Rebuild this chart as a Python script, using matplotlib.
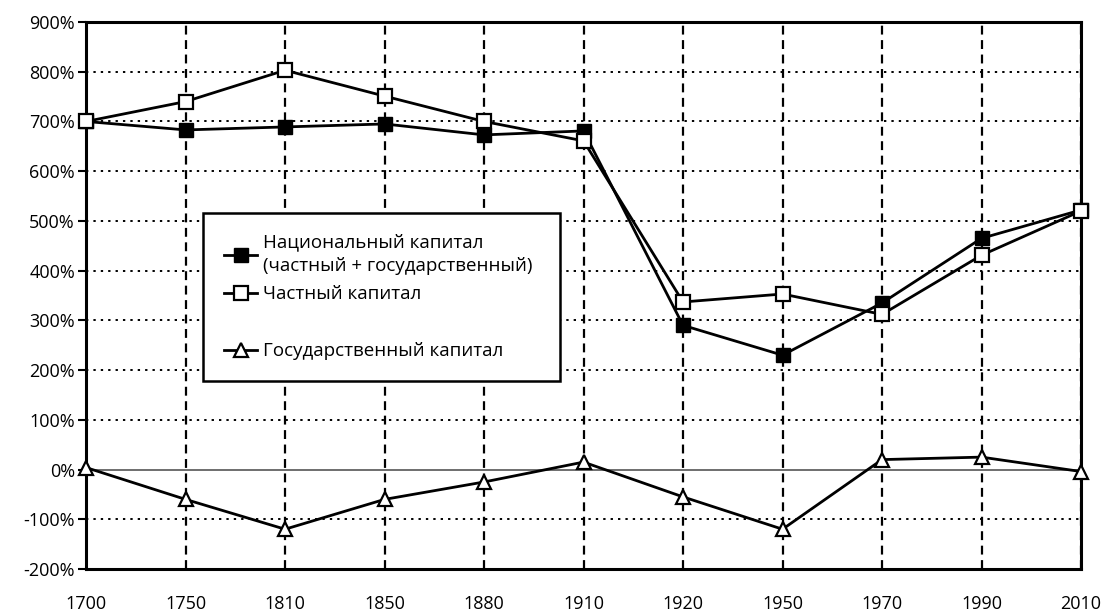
import matplotlib
matplotlib.use("Agg")
import matplotlib.pyplot as plt
from matplotlib.lines import Line2D

years = ["1700", "1750", "1810", "1850", "1880", "1910", "1920", "1950", "1970", "1990", "2010"]
national = [700, 683, 689, 695, 673, 681, 290, 230, 335, 465, 522]
private = [700, 740, 803, 751, 700, 661, 337, 353, 312, 431, 520]
public = [4, -60, -120, -60, -25, 15, -55, -120, 20, 25, -4]
yticks = [-200, -100, 0, 100, 200, 300, 400, 500, 600, 700, 800, 900]
labels = ["Национальный капитал\n(частный + государственный)", "Частный капитал", "Государственный капитал"]

plt.rcParams['font.family'] = ['Open Sans', 'DejaVu Sans']

fig = plt.figure(figsize=(11.06, 6.15), dpi=100)
ax = fig.add_axes([0.0778, 0.0748, 0.8996, 0.8894])

x = list(range(len(years)))

for xi in x:
    ax.axvline(xi, color='black', lw=1.6, ls=(0, (4, 2.5)), zorder=1)
for yv in yticks:
    if yv == 0:
        ax.axhline(0, color='#555555', lw=1.2, zorder=1)
    else:
        ax.axhline(yv, color='black', lw=1.4, ls=(0, (1.2, 2.6)), zorder=1)

l1, = ax.plot(x, national, color='black', lw=2, marker='s', ms=10,
              mfc='black', mec='black', zorder=4, clip_on=False)
l2, = ax.plot(x, private, color='black', lw=2, marker='s', ms=10,
              mfc='white', mec='black', mew=1.6, zorder=5, clip_on=False)
l3, = ax.plot(x, public, color='black', lw=2, marker='^', ms=10,
              mfc='white', mec='black', mew=1.6, zorder=4, clip_on=False)

ax.set_xlim(0, len(years) - 1)
ax.set_ylim(-200, 900)
ax.set_yticks(yticks)
ax.set_yticklabels([f"{v}%" for v in yticks])
ax.set_xticks(x)
ax.set_xticklabels(years)
ax.tick_params(axis='y', length=6, width=1.5, labelsize=13, pad=2)
ax.tick_params(axis='x', length=0, labelsize=13, pad=19)
for s in ax.spines.values():
    s.set_linewidth(2.2)

blank = Line2D([], [], color='none')
leg = ax.legend([l1, l2, blank, l3], [labels[0], labels[1], " ", labels[2]],
                loc='upper left', bbox_to_anchor=(0.1176, 0.344, 0.3586, 0.307),
                mode='expand', fontsize=13.5, frameon=True, fancybox=False,
                edgecolor='black', framealpha=1, handlelength=1.8,
                handletextpad=0.3, labelspacing=0.55, borderpad=1.1,
                borderaxespad=0)
leg.get_texts()[0].set_linespacing(1.4)
leg.get_frame().set_linewidth(1.8)
leg.set_zorder(10)

fig.savefig("out.png", dpi=100, facecolor='white')
